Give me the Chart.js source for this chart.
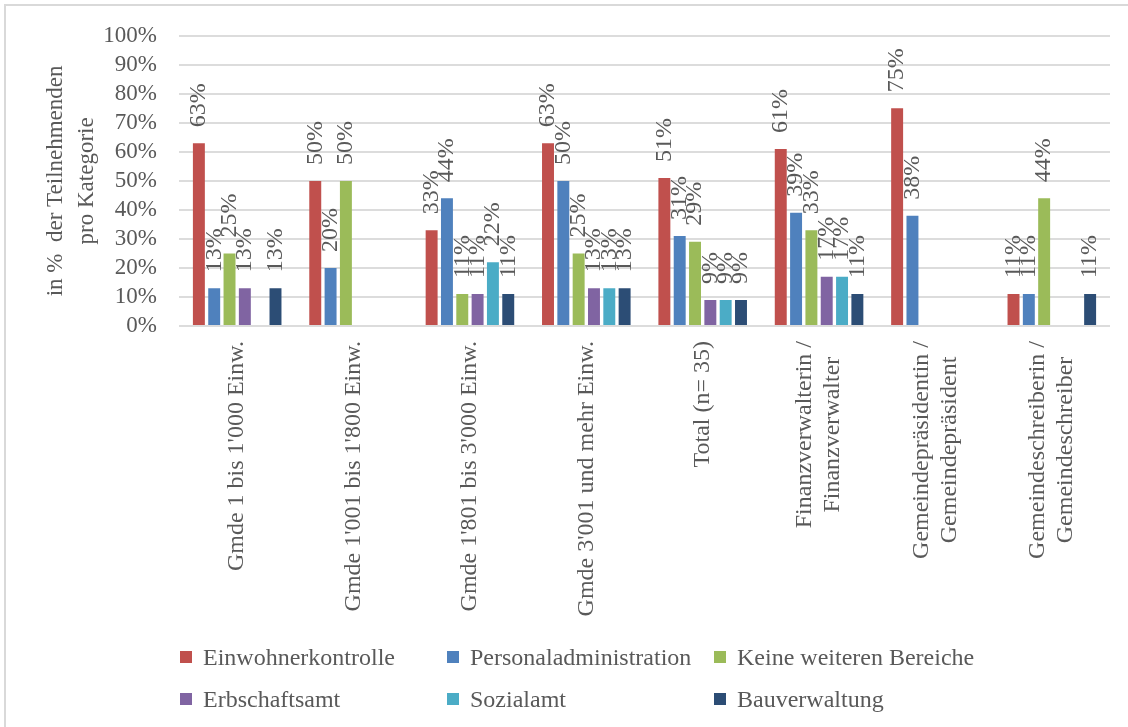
<!DOCTYPE html>
<html lang="de">
<head>
<meta charset="utf-8">
<title>Zuständigkeiten pro Kategorie</title>
<script src="https://cdn.jsdelivr.net/npm/chart.js@4.4.1/dist/chart.umd.min.js"></script>
<style>
  body { margin: 0; background: #fff; font-family: "Liberation Serif", serif; }
  #wrap { position: relative; width: 1128px; height: 727px; overflow: hidden; background: #fff; }
  #frame { position: absolute; left: 4px; top: 4px; width: 1140px; height: 740px; border: 2px solid #d9d9d9; }
  canvas { position: absolute; left: 0; top: 0; }
  #legend { position: absolute; left: 180px; top: 636px; display: grid; grid-template-columns: repeat(3, 267px); grid-auto-rows: 42px; }
  .item { display: flex; align-items: center; font-size: 24px; color: #595959; white-space: nowrap; }
  .box { width: 12px; height: 12px; margin-right: 11px; flex: none; }
</style>
</head>
<body>
<div id="wrap">
  <div id="frame"></div>
  <canvas id="chart" width="1128" height="727"></canvas>
  <div id="legend"></div>
</div>
<script>
const categories = [
  "Gmde 1 bis 1'000 Einw.",
  "Gmde 1'001 bis 1'800 Einw.",
  "Gmde 1'801 bis 3'000 Einw.",
  "Gmde 3'001 und mehr Einw.",
  "Total (n= 35)",
  ["Finanzverwalterin /", "Finanzverwalter"],
  ["Gemeindepräsidentin /", "Gemeindepräsident"],
  ["Gemeindeschreiberin /", "Gemeindeschreiber"]
];

const seriesNames = [
  "Einwohnerkontrolle",
  "Personaladministration",
  "Keine weiteren Bereiche",
  "Erbschaftsamt",
  "Sozialamt",
  "Bauverwaltung"
];

// percentages per category, null = no bar
const einwohnerkontrolle     = [63, 50, 33, 63, 51, 61, 75, 11];
const personaladministration = [13, 20, 44, 50, 31, 39, 38, 11];
const keineWeiteren          = [25, 50, 11, 25, 29, 33, null, 44];
const erbschaftsamt          = [13, null, 11, 13, 9, 17, null, null];
const sozialamt              = [null, null, 22, 13, 9, 17, null, null];
const bauverwaltung          = [13, null, 11, 13, 9, 11, null, 11];

const seriesColors = ["#C0504D", "#4F81BD", "#9BBB59", "#8064A2", "#4BACC6", "#2C4D75"];
const yTitle = ["in %  der Teilnehmenden", "pro Kategorie"];

const allSeries = [einwohnerkontrolle, personaladministration, keineWeiteren, erbschaftsamt, sozialamt, bauverwaltung];

const FONT = '"Liberation Serif", serif';
const TEXT = "#595959";

// rotated value labels above each bar
const valueLabels = {
  id: "valueLabels",
  afterDatasetsDraw(chart) {
    const ctx = chart.ctx;
    ctx.save();
    ctx.font = "24px " + FONT;
    ctx.fillStyle = TEXT;
    ctx.textAlign = "left";
    ctx.textBaseline = "middle";
    chart.data.datasets.forEach((ds, di) => {
      chart.getDatasetMeta(di).data.forEach((bar, i) => {
        const v = ds.data[i];
        if (v == null) return;
        ctx.save();
        ctx.translate(bar.x, bar.y - 16);
        ctx.rotate(-Math.PI / 2);
        ctx.fillText(v + "%", 0, 0);
        ctx.restore();
      });
    });
    ctx.restore();
  }
};

// vertical category labels, multi-line ones centred on the tick
const categoryLabels = {
  id: "categoryLabels",
  afterDraw(chart) {
    const ctx = chart.ctx;
    const xs = chart.scales.x;
    const top = chart.chartArea.bottom + 15;
    const lh = 28;
    ctx.save();
    ctx.font = "24px " + FONT;
    ctx.fillStyle = TEXT;
    ctx.textAlign = "center";
    ctx.textBaseline = "middle";
    categories.forEach((label, i) => {
      const lines = Array.isArray(label) ? label : [label];
      const w = Math.max(...lines.map(l => ctx.measureText(l).width));
      ctx.save();
      ctx.translate(xs.getPixelForValue(i), top);
      ctx.rotate(-Math.PI / 2);
      lines.forEach((l, j) => {
        ctx.fillText(l, -w / 2, (j - (lines.length - 1) / 2) * lh);
      });
      ctx.restore();
    });
    ctx.restore();
  }
};

new Chart(document.getElementById("chart"), {
  type: "bar",
  data: {
    labels: categories,
    datasets: seriesNames.map((name, k) => ({
      label: name,
      data: allSeries[k],
      backgroundColor: seriesColors[k],
      barPercentage: 0.78,
      categoryPercentage: 0.79
    }))
  },
  options: {
    responsive: false,
    animation: false,
    layout: { padding: { left: 0, top: 34, right: 18, bottom: 101 } },
    plugins: {
      legend: { display: false },
      tooltip: { enabled: false }
    },
    scales: {
      x: {
        grid: { display: false },
        border: { display: false },
        ticks: { display: false },
        afterFit(s) { s.height = 300; }
      },
      y: {
        min: 0,
        max: 100,
        ticks: {
          stepSize: 10,
          autoSkip: false,
          padding: 22,
          color: TEXT,
          font: { family: FONT, size: 23 },
          callback: v => v + "%"
        },
        grid: { color: "#dcdcdc", lineWidth: 2, drawTicks: false },
        border: { display: false },
        title: {
          display: true,
          text: yTitle,
          color: TEXT,
          font: { family: FONT, size: 23, lineHeight: 1.35 },
          padding: { top: 40, bottom: 0 }
        },
        afterFit(s) { s.width = 179; }
      }
    }
  },
  plugins: [valueLabels, categoryLabels]
});

// legend in three columns below the chart
const legend = document.getElementById("legend");
seriesNames.forEach((name, k) => {
  const item = document.createElement("div");
  item.className = "item";
  item.innerHTML = `<span class="box" style="background:${seriesColors[k]}"></span><span>${name}</span>`;
  legend.appendChild(item);
});
</script>
</body>
</html>
